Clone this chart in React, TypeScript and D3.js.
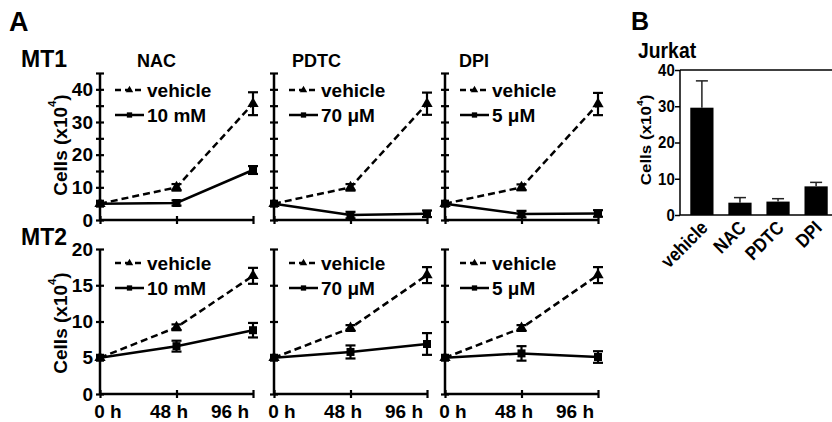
import { useEffect, useRef } from 'react';
import * as d3 from 'd3';

// time points and labels
const hours = [0, 48, 96];
const hourLabels = ['0 h', '48 h', '96 h'];
const drugs = ['NAC', 'PDTC', 'DPI'];
const doses = ['10 mM', '70 μM', '5 μM'];

// MT1 (cells x10^4), one row per drug panel
const mt1Ticks = [0, 5, 10, 15, 20, 25, 30, 35, 40, 45];
const mt1TickLabels = [0, 10, 20, 30, 40];
const mt1VehicleMean = [[5, 10, 35.6], [5, 10, 35.6], [5, 10, 35.5]];
const mt1VehicleErr = [[0, 1, 3.5], [0, 1, 3.4], [0, 0.9, 3.4]];
const mt1DrugMean = [[5, 5.2, 15.3], [5, 1.5, 1.9], [5, 1.8, 2]];
const mt1DrugErr = [[0, 0.8, 1.2], [0, 1, 1], [0, 1, 1]];

// MT2
const mt2Ticks = [0, 5, 10, 15, 20];
const mt2TickLabels = [0, 5, 10, 15, 20];
const mt2VehicleMean = [[5, 9.2, 16.3], [5, 9.1, 16.4], [5, 9.1, 16.4]];
const mt2VehicleErr = [[0, 0.4, 1.1], [0, 0.4, 1.1], [0, 0.4, 1.1]];
const mt2DrugMean = [[5, 6.6, 8.8], [5, 5.8, 6.9], [5, 5.6, 5.1]];
const mt2DrugErr = [[0, 0.75, 1.0], [0, 0.9, 1.5], [0, 1.0, 0.8]];

// Jurkat bars
const jurkatGroups = ['vehicle', 'NAC', 'PDTC', 'DPI'];
const jurkatMean = [29.6, 3.4, 3.7, 7.9];
const jurkatErr = [7.4, 1.4, 0.8, 1.1];
const jurkatTicks = [0, 10, 20, 30, 40];

const FONT = '"Liberation Sans", Arial, Helvetica, sans-serif';

// layout
const panelLeft = [100, 274, 445];
const panelW = 153;
const titleDx = [37, 18, 14];
const NARROW = 0.88;

const yLabel = (g, x, y, size, sx = 1) => {
  const t = g.append('text')
    .attr('transform', `translate(${x},${y}) rotate(-90) scale(1,${sx})`)
    .attr('text-anchor', 'middle')
    .attr('dominant-baseline', 'central')
    .attr('font-size', size);
  t.append('tspan').text('Cells (x10');
  t.append('tspan').attr('font-size', size * 0.6).attr('dy', -size * 0.4).text('4');
  t.append('tspan').attr('dy', size * 0.4).text(')');
};

const build = (el) => {
  const svg = d3.select(el);
  svg.selectAll('*').remove();
  svg.attr('font-family', FONT).attr('font-weight', 'bold').attr('fill', '#000');

  const rows = [
    { name: 'MT1', base: 220, top: 73, max: 45, ticks: mt1Ticks, labels: mt1TickLabels,
      veh: mt1VehicleMean, vehErr: mt1VehicleErr, drug: mt1DrugMean, drugErr: mt1DrugErr, legendY: 90, nameY: 67, ylab: 145 },
    { name: 'MT2', base: 394, top: 249, max: 20, ticks: mt2Ticks, labels: mt2TickLabels,
      veh: mt2VehicleMean, vehErr: mt2VehicleErr, drug: mt2DrugMean, drugErr: mt2DrugErr, legendY: 263, nameY: 245, ylab: 323 },
  ];

  svg.append('text').attr('x', 9).attr('y', 31).attr('font-size', 27).text('A');

  rows.forEach((r, ri) => {
    svg.append('text').attr('x', 21).attr('y', r.nameY).attr('font-size', 23).text(r.name);
    yLabel(svg, 60, r.ylab, 19);

    drugs.forEach((drug, i) => {
      const left = panelLeft[i];
      const x = d3.scaleLinear().domain([0, 96]).range([left, left + panelW]);
      const y = d3.scaleLinear().domain([0, r.max]).range([r.base, r.top]);
      const g = svg.append('g');

      if (ri === 0) {
        g.append('text').attr('x', left + titleDx[i]).attr('y', r.nameY)
          .attr('font-size', 18).text(drug);
      }

      // y axis with crossing ticks
      const ya = g.append('g').attr('transform', `translate(${left + 4},0)`)
        .call(d3.axisLeft(y).tickValues(r.ticks).tickSize(8).tickPadding(3)
          .tickFormat((d) => (i === 0 && r.labels.includes(d) ? String(d) : '')));
      ya.select('.domain').remove();
      ya.selectAll('line').attr('stroke', '#000').attr('stroke-width', 2.2);
      ya.selectAll('text').attr('font-size', 19).attr('font-family', FONT).attr('fill', '#000');
      g.append('line').attr('x1', left).attr('x2', left).attr('y1', y(0)).attr('y2', y(r.max))
        .attr('stroke', '#000').attr('stroke-width', 2.5);

      // x axis
      const xa = g.append('g').attr('transform', `translate(0,${r.base + 4})`)
        .call(d3.axisBottom(x).tickValues(hours).tickSize(8).tickFormat(() => ''));
      xa.select('.domain').remove();
      xa.selectAll('line').attr('stroke', '#000').attr('stroke-width', 2.2)
        .attr('transform', 'translate(0,-8)');
      g.append('line').attr('x1', left).attr('x2', left + panelW).attr('y1', r.base).attr('y2', r.base)
        .attr('stroke', '#000').attr('stroke-width', 2.5);

      if (ri === 1) {
        const xl = d3.scalePoint().domain(hourLabels).range([left + 8, left + 130]);
        g.selectAll('.xl').data(hourLabels).enter().append('text')
          .attr('x', (d) => xl(d)).attr('y', 411).attr('text-anchor', 'middle')
          .attr('dominant-baseline', 'central').attr('font-size', 19).text((d) => d);
      }

      const line = d3.line().x((d, k) => x(hours[k])).y((d) => y(d));
      const series = [
        { mean: r.veh[i], err: r.vehErr[i], dash: '7,4', sym: d3.symbolTriangle, size: 55 },
        { mean: r.drug[i], err: r.drugErr[i], dash: null, sym: d3.symbolSquare, size: 64 },
      ];
      series.forEach((s) => {
        g.append('path').attr('d', line(s.mean)).attr('fill', 'none').attr('stroke', '#000')
          .attr('stroke-width', 2.5).attr('stroke-dasharray', s.dash);
        s.mean.forEach((m, k) => {
          const e = s.err[k];
          const cx = x(hours[k]);
          if (e > 0) {
            g.append('line').attr('x1', cx).attr('x2', cx).attr('y1', y(m - e)).attr('y2', y(m + e))
              .attr('stroke', '#000').attr('stroke-width', 2.2);
            [m - e, m + e].forEach((v) => {
              g.append('line').attr('x1', cx - 5).attr('x2', cx + 5).attr('y1', y(v)).attr('y2', y(v))
                .attr('stroke', '#000').attr('stroke-width', 2.2);
            });
          }
          g.append('path').attr('d', d3.symbol(s.sym, s.size)())
            .attr('transform', `translate(${cx},${y(m)})`).attr('fill', '#000');
        });
      });

      // legend
      const legend = [
        { label: 'vehicle', dash: '6,4', sym: d3.symbolTriangle, size: 24 },
        { label: doses[i], dash: null, sym: d3.symbolSquare, size: 28 },
      ];
      legend.forEach((l, k) => {
        const ly = r.legendY + k * 25;
        g.append('line').attr('x1', left + 15).attr('x2', left + 44).attr('y1', ly).attr('y2', ly)
          .attr('stroke', '#000').attr('stroke-width', 2.5).attr('stroke-dasharray', l.dash);
        g.append('path').attr('d', d3.symbol(l.sym, l.size)())
          .attr('transform', `translate(${left + 29.5},${ly})`).attr('fill', '#000');
        g.append('text').attr('x', left + 47).attr('y', ly).attr('dominant-baseline', 'central')
          .attr('font-size', 19).text(l.label);
      });
    });
  });

  // panel B
  svg.append('text').attr('transform', 'translate(631,30)').attr('font-size', 25).text('B');
  svg.append('text').attr('transform', `translate(638,58) scale(${NARROW},1)`)
    .attr('font-size', 22).text('Jurkat');
  yLabel(svg, 645, 140, 17, NARROW);

  const yB = d3.scaleLinear().domain([0, 40]).range([215, 70]);
  const xB = d3.scaleBand().domain(jurkatGroups).range([680, 838])
    .paddingInner(0.39).paddingOuter(0.27);
  const gb = svg.append('g');

  const ba = gb.append('g').attr('transform', 'translate(680,0)')
    .call(d3.axisLeft(yB).tickValues(jurkatTicks).tickSize(5).tickPadding(1));
  ba.select('.domain').remove();
  ba.selectAll('line').attr('stroke', '#000').attr('stroke-width', 1.5);
  ba.selectAll('text').attr('font-size', 17).attr('font-family', FONT).attr('fill', '#000')
    .attr('transform', `scale(${NARROW},1)`);
  gb.append('line').attr('x1', 680).attr('x2', 680).attr('y1', yB(0)).attr('y2', yB(40))
    .attr('stroke', '#000').attr('stroke-width', 1.5);
  [0, 40].forEach((v) => {
    gb.append('line').attr('x1', 680).attr('x2', 832).attr('y1', yB(v)).attr('y2', yB(v))
      .attr('stroke', '#000').attr('stroke-width', 1.5);
  });

  gb.selectAll('.bar').data(jurkatGroups).enter().append('rect')
    .attr('x', (d) => xB(d)).attr('width', xB.bandwidth())
    .attr('y', (d, k) => yB(jurkatMean[k])).attr('height', (d, k) => yB(0) - yB(jurkatMean[k]))
    .attr('fill', '#000');
  jurkatGroups.forEach((d, k) => {
    const cx = xB(d) + xB.bandwidth() / 2;
    const top = yB(jurkatMean[k] + jurkatErr[k]);
    gb.append('line').attr('x1', cx).attr('x2', cx).attr('y1', yB(jurkatMean[k])).attr('y2', top)
      .attr('stroke', '#222').attr('stroke-width', 1.5);
    gb.append('line').attr('x1', cx - 6).attr('x2', cx + 6).attr('y1', top).attr('y2', top)
      .attr('stroke', '#222').attr('stroke-width', 1.5);
    gb.append('text').attr('transform', `translate(${cx + 7},${229}) rotate(-45) scale(${NARROW},1)`)
      .attr('text-anchor', 'end').attr('font-size', 19).text(d);
  });
};

const App = () => {
  const ref = useRef(null);
  useEffect(() => {
    build(ref.current);
  }, []);
  return (
    <svg ref={ref} width={832} height={422}
      style={{ position: 'absolute', left: 0, top: 0, background: '#fff' }} />
  );
};

export default App;
